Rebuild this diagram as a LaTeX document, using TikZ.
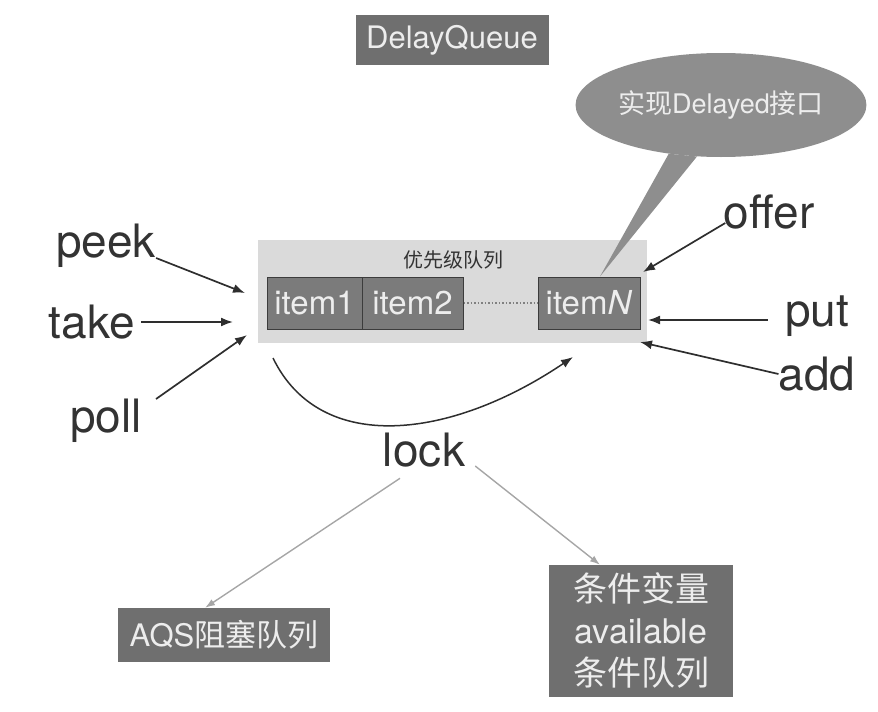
\documentclass[tikz,border=0pt]{standalone}
\usepackage{fontspec}
\setmainfont{TeX Gyre Heros}
\newfontfamily\cjk{Noto Sans CJK SC}
\usetikzlibrary{shapes.geometric,arrows.meta,calc}
\definecolor{boxgray}{HTML}{6F6F6F}
\definecolor{calloutgray}{HTML}{8E8E8E}
\definecolor{bggray}{HTML}{DADADA}
\definecolor{itemgray}{HTML}{7B7B7B}
\definecolor{itemborder}{HTML}{3C3C3C}
\definecolor{boxtext}{HTML}{EDEDED}
\definecolor{labeltext}{HTML}{333333}
\definecolor{arrowblack}{HTML}{2E2E2E}
\definecolor{lockgray}{HTML}{A6A6A6}
\begin{document}
\begin{tikzpicture}[x=1pt,y=-1pt,
  lbl/.style={inner sep=0pt, text=labeltext, font=\fontsize{46}{52}\selectfont},
  blackarrow/.style={draw=arrowblack, line width=1.7pt, -{Latex[length=12pt,width=9pt]}},
  grayarrow/.style={draw=lockgray, line width=1.4pt, -{Latex[length=10pt,width=7pt]}},
  darkbox/.style={fill=boxgray, text=boxtext, inner sep=0pt},
  itembox/.style={draw=itemborder, line width=1pt, fill=itemgray, text=boxtext, inner sep=0pt, minimum height=52pt, font=\fontsize{33}{38}\selectfont}
]
\useasboundingbox (0,0) rectangle (878,712);

% title
\node[darkbox, minimum width=193pt, minimum height=50pt, font=\fontsize{31}{36}\selectfont] (title) at (452,40) {DelayQueue};

% priority queue background
\node[fill=bggray, minimum width=389pt, minimum height=103pt, inner sep=0pt] (bg) at (452.5,291.5) {};
\node[inner sep=0pt, text=labeltext, font={\cjk\fontsize{20}{24}\selectfont}] (pqlabel) at (453,260) {优先级队列};

% items
\node[itembox, minimum width=95pt] (item1) at (314.5,303) {item1};
\node[itembox, minimum width=101pt] (item2) at (412.5,303) {item2};
\node[itembox, minimum width=102pt] (itemN) at (589,303) {item\textit{N}};
\draw[dotted, line width=1.5pt, color=gray] (item2.east) -- (itemN.west);

% callout
\node[ellipse, fill=calloutgray, minimum width=272pt, minimum height=104pt, inner sep=0pt, text=boxtext, font=\fontsize{27}{31}\selectfont] (callout) at (721,105) {{\cjk 实现}Delayed{\cjk 接口}};
\fill[calloutgray] (callout.-137) -- ([xshift=11pt]itemN.north) -- (callout.-115) -- cycle;

% labels
\node[lbl] (peek) at (106,246) {peek};
\node[lbl] (take) at (92,322) {take};
\node[lbl] (poll) at (106,421) {poll};
\node[lbl] (offer) at (769,212) {offer};
\node[lbl] (put) at (817,316) {put};
\node[lbl] (add) at (817,374) {add};
\node[lbl] (lock) at (424,450) {lock};

% target coordinates
\coordinate (pin) at (245,293);
\coordinate (tin) at (233,322);
\coordinate (lin) at (247,335);
\coordinate (oin) at (643,272);
\coordinate (uin) at (648,320);
\coordinate (ain) at (640,342);
\coordinate (cs) at (273,358);
\coordinate (ce) at (573,357);

\draw[blackarrow] ([yshift=-12pt]peek.east) -- (pin);
\draw[blackarrow] ([xshift=6pt]take.east) -- (tin);
\draw[blackarrow] ([xshift=14pt]poll.north east) -- (lin);
\draw[blackarrow] ([xshift=2pt,yshift=-11pt]offer.west) -- (oin);
\draw[blackarrow] ([xshift=-17pt,yshift=-4pt]put.west) -- (uin);
\draw[blackarrow] (add.west) -- (ain);
\draw[blackarrow, line width=1.5pt] (cs) .. controls (320,455) and (450,440) .. (ce);

% bottom boxes
\node[darkbox, minimum width=212pt, minimum height=54pt, font=\fontsize{31}{36}\selectfont] (aqs) at (224,635) {AQS{\cjk 阻塞队列}};
\node[darkbox, minimum width=184pt, minimum height=132pt, align=center, font=\fontsize{34}{42}\selectfont] (cond) at (641,631) {{\cjk 条件变量}\\available\\{\cjk 条件队列}};

\draw[grayarrow] ([xshift=-24pt,yshift=-11pt]lock.south) -- ([xshift=-19pt]aqs.north);
\draw[grayarrow] ([xshift=10pt,yshift=-16pt]lock.east) -- ([xshift=-41pt]cond.north);
\end{tikzpicture}
\end{document}
